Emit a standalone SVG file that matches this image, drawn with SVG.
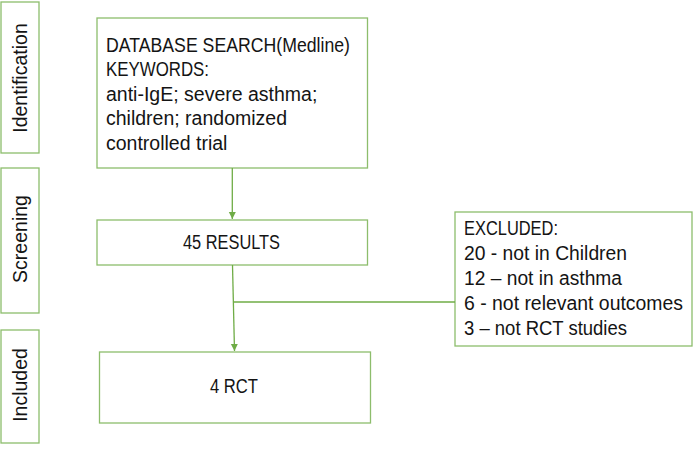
<svg xmlns="http://www.w3.org/2000/svg" width="697" height="450" viewBox="0 0 697 450">
<style>
.box{fill:#fff;stroke:#8dbd6c;stroke-width:1.3}
.t{font-family:"Liberation Sans",Arial,sans-serif;font-size:19.5px;fill:#141414}
.c{text-anchor:middle}
.ln{fill:none;stroke:#6fac46;stroke-width:1.3}
</style>
<defs>
<marker id="ah" markerWidth="8" markerHeight="8" refX="7" refY="4" orient="auto" markerUnits="userSpaceOnUse">
<path d="M0,0.5 L7,4 L0,7.5 Z" fill="#6fac46"/>
</marker>
</defs>
<rect width="697" height="450" fill="#fff"/>
<g id="stage-identification">
<rect class="box" x="1" y="2" width="38" height="151"/>
<text class="t c" transform="translate(27,78) rotate(-90)">Identification</text>
</g>
<g id="stage-screening">
<rect class="box" x="1" y="168" width="38" height="145"/>
<text class="t c" transform="translate(27,239) rotate(-90)">Screening</text>
</g>
<g id="stage-included">
<rect class="box" x="1" y="330" width="38" height="113"/>
<text class="t c" transform="translate(27,385) rotate(-90)">Included</text>
</g>
<g id="database-search">
<rect class="box" x="97" y="18" width="270.5" height="150"/>
<text class="t" x="106" y="52" textLength="244" lengthAdjust="spacingAndGlyphs">DATABASE SEARCH(Medline)</text>
<text class="t" x="106" y="76" textLength="103" lengthAdjust="spacingAndGlyphs">KEYWORDS:</text>
<text class="t" x="106" y="101">anti-IgE; severe asthma;</text>
<text class="t" x="106" y="125">children; randomized</text>
<text class="t" x="106" y="150">controlled trial</text>
</g>
<g id="results">
<rect class="box" x="97" y="220" width="270.5" height="45"/>
<text class="t" x="183" y="249" textLength="97" lengthAdjust="spacingAndGlyphs">45 RESULTS</text>
</g>
<g id="rct">
<rect class="box" x="99.5" y="352" width="271" height="71"/>
<text class="t" x="210" y="393" textLength="48" lengthAdjust="spacingAndGlyphs">4 RCT</text>
</g>
<g id="excluded">
<rect class="box" x="455" y="212" width="237" height="134"/>
<text class="t" x="464" y="235" textLength="94" lengthAdjust="spacingAndGlyphs">EXCLUDED:</text>
<text class="t" x="464" y="260" textLength="163" lengthAdjust="spacingAndGlyphs">20 - not in Children</text>
<text class="t" x="464" y="285" textLength="158" lengthAdjust="spacingAndGlyphs">12 – not in asthma</text>
<text class="t" x="464" y="310" textLength="219" lengthAdjust="spacingAndGlyphs">6 - not relevant outcomes</text>
<text class="t" x="464" y="335" textLength="163" lengthAdjust="spacingAndGlyphs">3 – not RCT studies</text>
</g>
<g id="connectors">
<line class="ln" x1="232.3" y1="168" x2="232.3" y2="219" marker-end="url(#ah)"/>
<line class="ln" x1="232.5" y1="265" x2="234.5" y2="351" marker-end="url(#ah)"/>
<line class="ln" x1="234" y1="302" x2="455" y2="302"/>
</g>
</svg>
